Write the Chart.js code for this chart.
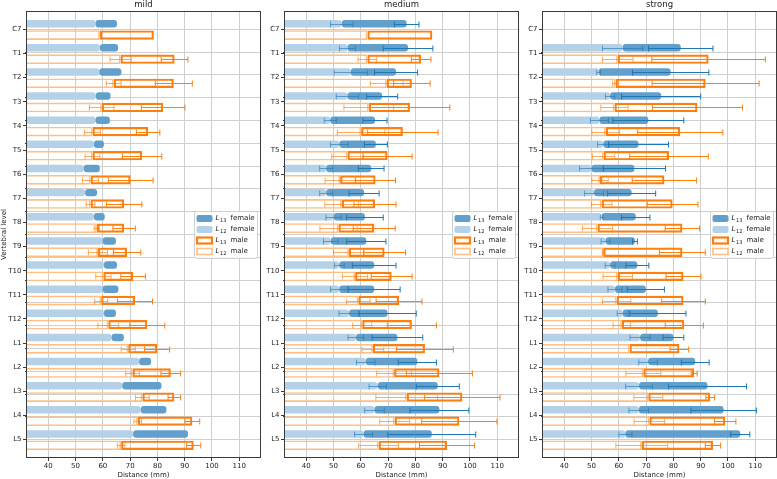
<!DOCTYPE html>
<html>
<head>
<meta charset="utf-8">
<script src="https://cdn.jsdelivr.net/npm/chart.js@4.4.0/dist/chart.umd.min.js"></script>
<style>
  html, body { margin: 0; padding: 0; background: #fff; }
  #wrap { position: relative; width: 777px; height: 479px; }
  .panel { position: absolute; top: 0; height: 479px; }
</style>
</head>
<body>
<div id="wrap">
  <div class="panel" style="left:0;width:262px"><canvas id="mild"></canvas></div>
  <div class="panel" style="left:262px;width:258px"><canvas id="medium"></canvas></div>
  <div class="panel" style="left:520px;width:257px"><canvas id="strong"></canvas></div>
</div>
<script>
//-----------------------------------
// Data (mm)
//-----------------------------------
const levels = ['C7', 'T1', 'T2', 'T3', 'T4', 'T5', 'T6', 'T7', 'T8', 'T9', 'T10', 'T11', 'T12', 'L1', 'L2', 'L3', 'L4', 'L5'];
const xTicks = [40, 50, 60, 70, 80, 90, 100, 110];
const xStart = 0; // L12 bars are drawn from here

// mild
const mildFemaleL12 = [57.3, 58.9, 58.7, 57.4, 57.3, 56.7, 53.0, 53.5, 56.7, 59.9, 60.4, 59.9, 60.4, 63.2, 73.3, 67.1, 73.9, 71.1];
const mildFemaleL12Sd = [null, null, null, null, null, null, null, null, null, null, null, null, null, null, null, null, null, null];
const mildFemaleL13 = [65.2, 65.6, 66.8, 62.8, 62.6, 60.4, 58.9, 57.9, 60.7, 64.8, 65.2, 65.7, 64.8, 67.7, 77.7, 81.5, 83.3, 91.2];
const mildFemaleL13Sd = [null, null, null, null, null, null, null, null, null, null, null, null, null, null, null, null, null, null];
const mildMaleL12 = [58.9, 66.5, 64.0, 59.6, 56.2, 56.2, 55.5, 55.5, 57.8, 58.2, 60.2, 59.4, 62.0, 69.3, 70.9, 74.5, 72.8, 66.7];
const mildMaleL12Sd = [null, 3.9, 2.7, 4.5, 2.9, 2.7, 3.0, 1.6, 1.0, 3.5, 2.8, 2.4, 3.8, 2.6, 2.5, 2.5, 1.4, 1.4];
const mildMaleL13 = [78.7, 86.3, 86.0, 82.1, 76.6, 74.4, 70.2, 67.8, 67.8, 68.9, 71.1, 71.8, 76.3, 79.9, 84.9, 86.2, 92.8, 93.3];
const mildMaleL13Sd = [null, 4.9, 6.8, 8.0, 4.3, 7.2, 8.2, 6.5, 4.1, 5.0, 4.5, 6.4, 6.4, 4.6, 3.6, 2.3, 2.7, 2.6];

// medium
const mediumFemaleL12 = [53.0, 55.1, 56.3, 55.1, 48.8, 52.1, 47.3, 47.3, 50.0, 49.0, 52.1, 52.1, 55.7, 58.2, 61.8, 66.2, 65.0, 61.0];
const mediumFemaleL12Sd = [4.1, 2.9, 6.1, 4.1, 2.2, 3.2, 2.4, 2.4, 2.8, 2.7, 1.8, 3.2, 3.7, 2.9, 3.4, 3.2, 3.6, 3.3];
const mediumFemaleL13 = [76.8, 77.3, 72.9, 67.8, 65.2, 65.5, 63.8, 61.2, 61.5, 62.0, 64.9, 64.9, 69.8, 73.4, 80.7, 88.2, 88.8, 86.0];
const mediumFemaleL13Sd = [4.5, 9.1, 7.9, 5.7, 4.4, 4.2, 4.7, 5.5, 6.7, 7.2, 8.0, 9.5, 10.5, 9.3, 7.0, 7.9, 10.8, 16.1];
const mediumMaleL12 = [62.4, 62.4, 69.5, 62.9, 60.1, 55.1, 52.4, 53.0, 51.8, 55.6, 57.9, 59.1, 60.5, 64.4, 72.2, 76.8, 72.4, 66.5];
const mediumMaleL12Sd = [null, 3.4, 6.0, 9.1, 8.7, 5.8, 5.5, 6.2, 6.8, 5.6, 4.6, 4.3, 3.5, 4.0, 6.4, 11.3, 5.5, 7.3];
const mediumMaleL13 = [86.2, 82.1, 78.7, 78.0, 75.4, 69.8, 65.4, 65.2, 64.9, 68.7, 71.3, 74.0, 78.7, 83.5, 88.8, 97.2, 96.1, 91.6];
const mediumMaleL13Sd = [null, 3.6, 6.7, 14.6, 12.9, 9.0, 7.3, 7.7, 7.7, 7.7, 7.5, 8.4, 9.0, 10.4, 12.1, 13.8, 13.8, 10.1];

// strong (no C7 data)
const strongFemaleL12 = [null, 61.4, 52.6, 56.8, 52.9, 54.3, 50.0, 50.9, 53.7, 55.1, 56.8, 58.6, 61.4, 67.8, 70.7, 67.4, 67.3, 62.4];
const strongFemaleL12Sd = [null, 7.4, 0.7, 1.7, 3.3, 2.1, 4.4, 3.5, 0.5, 1.6, 1.8, 2.6, 2.0, 3.7, 3.4, 4.9, 3.6, 2.4];
const strongFemaleL13 = [null, 82.7, 79.0, 75.5, 70.8, 67.2, 65.7, 64.7, 66.2, 65.9, 66.8, 69.9, 74.3, 80.0, 88.0, 92.5, 98.4, 104.5];
const strongFemaleL13Sd = [null, 11.8, 14.0, 14.5, 13.0, 11.0, 11.4, 8.8, 5.2, 0.9, 4.2, 6.8, 10.3, 3.8, 5.1, 14.3, 12.0, 3.5];
const strongMaleL12 = [null, 59.6, 58.8, 58.4, 55.2, 54.4, 53.1, 53.7, 52.2, 54.3, 59.6, 59.2, 61.1, 63.9, 69.0, 70.8, 71.2, 68.4];
const strongMaleL12Sd = [null, 5.6, 1.1, 5.0, 5.1, 4.1, 3.0, 3.8, 5.5, 0.2, 5.4, 5.2, 3.2, null, 6.4, 5.3, 5.6, 9.5];
const strongMaleL13 = [null, 92.9, 91.8, 88.8, 82.5, 78.4, 76.7, 79.7, 83.3, 83.3, 83.7, 83.7, 84.0, 82.2, 87.6, 93.5, 99.0, 94.5];
const strongMaleL13Sd = [null, 20.8, 19.6, 16.5, 15.6, 14.4, 11.8, 9.3, 6.3, 8.4, 6.4, 8.0, 7.0, 3.4, 1.1, 1.6, 3.9, 2.8];

//-----------------------------------
// Styling
//-----------------------------------
const family = '"DejaVu Sans", sans-serif';
const textCol = '#222';
const gridCol = '#cfcfcf';
const catPct = 0.94;
const colF13 = '#62a0cb', colF12 = '#b5d1e7';
const colM13 = '#ff7f0e', colM12 = '#ffbf86';
const errF12 = 'rgba(31,119,180,0.6)', errF13 = '#1f77b4';
const errM12 = 'rgba(255,127,14,0.65)', errM13 = '#ff7f0e';

// [lo, hi] pairs for floating bars, skipping missing levels
function floatBars(lo, hi) {
  const out = [];
  levels.forEach(function (_, i) {
    if (hi[i] == null) return;
    out.push({ y: i, x: [lo ? lo[i] : xStart, hi[i]] });
  });
  return out;
}

// error bars at both ends of the L13 bars
function errorBarPlugin(s) {
  return {
    id: 'errbars',
    afterDatasetsDraw(chart) {
      const { ctx, chartArea } = chart;
      const x = chart.scales.x, y = chart.scales.y;
      const spacing = Math.abs(y.getPixelForValue(1) - y.getPixelForValue(0));
      const shift = spacing * catPct / 4;
      ctx.save();
      ctx.beginPath();
      ctx.rect(chartArea.left, chartArea.top, chartArea.width, chartArea.height);
      ctx.clip();
      ctx.lineWidth = 1;
      const sets = [
        [s.f12, s.f12sd, -shift, errF12], [s.f13, s.f13sd, -shift, errF13],
        [s.m12, s.m12sd, shift, errM12], [s.m13, s.m13sd, shift, errM13]
      ];
      sets.forEach(function (set) {
        const vals = set[0], sds = set[1], dy = set[2];
        ctx.strokeStyle = set[3];
        levels.forEach(function (_, i) {
          if (vals[i] == null || !sds[i]) return;
          const cy = Math.round(y.getPixelForValue(i) + dy) + 0.5;
          const x0 = x.getPixelForValue(vals[i] - sds[i]);
          const x1 = x.getPixelForValue(vals[i] + sds[i]);
          ctx.beginPath();
          ctx.moveTo(x0, cy); ctx.lineTo(x1, cy);
          ctx.moveTo(x0, cy - 3); ctx.lineTo(x0, cy + 3);
          ctx.moveTo(x1, cy - 3); ctx.lineTo(x1, cy + 3);
          ctx.stroke();
        });
      });
      ctx.restore();
    }
  };
}

// frame + legend (centre right, like matplotlib)
const framePlugin = {
  id: 'frameLegend',
  afterDraw(chart) {
    const { ctx, chartArea: a } = chart;
    ctx.save();
    ctx.strokeStyle = '#3a3a3a';
    ctx.lineWidth = 1;
    ctx.strokeRect(Math.round(a.left) - 0.5, Math.round(a.top) - 0.5,
      Math.round(a.right) - Math.round(a.left) + 1, Math.round(a.bottom) - Math.round(a.top) + 1);

    const w = 63, h = 47;
    const bx = Math.round(a.right - 3 - w) + 0.5;
    const by = Math.round((a.top + a.bottom) / 2 - h / 2) + 0.5;
    ctx.fillStyle = 'rgba(255,255,255,0.85)';
    ctx.strokeStyle = '#d0d0d0';
    ctx.beginPath();
    ctx.roundRect(bx, by, w, h, 2);
    ctx.fill();
    ctx.stroke();

    const items = [
      ['13', 'female', 'fill', colF13],
      ['12', 'female', 'fill', colF12],
      ['13', 'male', 'stroke', colM13, 2.2],
      ['12', 'male', 'stroke', colM12, 1.6]
    ];
    items.forEach(function (it, k) {
      const cy = by + 7 + k * 11;
      if (it[2] === 'fill') {
        ctx.fillStyle = it[3];
        ctx.beginPath();
        ctx.roundRect(bx + 2, cy - 3.5, 16, 7, 2);
        ctx.fill();
      } else {
        ctx.strokeStyle = it[3];
        ctx.lineWidth = it[4];
        ctx.strokeRect(bx + 2.5, cy - 3, 15, 6);
      }
      ctx.fillStyle = textCol;
      ctx.textBaseline = 'middle';
      ctx.textAlign = 'left';
      ctx.font = 'italic 7px ' + family;
      ctx.fillText('L', bx + 21, cy);
      ctx.font = '5px ' + family;
      ctx.fillText(it[0], bx + 25.5, cy + 1.8);
      ctx.font = '7px ' + family;
      ctx.fillText(it[1], bx + 36, cy);
    });
    ctx.restore();
  }
};

function makePanel(id, title, s, axisW, padRight, showYTitle) {
  const common = { categoryPercentage: catPct, borderSkipped: false, clip: 0, xAxisID: 'x', yAxisID: 'y' };
  const datasets = [
    Object.assign({ label: 'L13 female', data: floatBars(s.f12, s.f13), stack: 'female',
      backgroundColor: colF13, borderWidth: 0, borderRadius: 3, barPercentage: 0.66 }, common),
    Object.assign({ label: 'L12 female', data: floatBars(null, s.f12), stack: 'female',
      backgroundColor: colF12, borderWidth: 0, borderRadius: 3, barPercentage: 0.66 }, common),
    Object.assign({ label: 'L13 male', data: floatBars(s.m12, s.m13), stack: 'male',
      backgroundColor: 'rgba(0,0,0,0)', borderColor: colM13, borderWidth: 2.2, barPercentage: 0.82 }, common),
    Object.assign({ label: 'L12 male', data: floatBars(null, s.m12), stack: 'male',
      backgroundColor: 'rgba(0,0,0,0)', borderColor: colM12, borderWidth: 1.6, barPercentage: 0.86 }, common)
  ];
  const levelTicks = function (scale) { scale.ticks = levels.map(function (_, i) { return { value: i }; }); };

  const config = {
    type: 'bar',
    data: { datasets: datasets },
    options: {
      indexAxis: 'y',
      responsive: true,
      maintainAspectRatio: false,
      animation: false,
      devicePixelRatio: 1,
      events: [],
      layout: { padding: { left: 0, right: padRight, top: 0, bottom: 0 } },
      plugins: {
        legend: { display: false },
        tooltip: { enabled: false },
        title: { display: true, text: title, fullSize: false, color: textCol,
          font: { family: family, size: 8.5, weight: 'normal' }, padding: { top: 0, bottom: 1.8 } }
      },
      scales: {
        x: {
          type: 'linear', min: 32.2, max: 117.6, stacked: false,
          afterBuildTicks: function (scale) { scale.ticks = xTicks.map(function (v) { return { value: v }; }); },
          afterFit: function (scale) { scale.height = 22; },
          ticks: { font: { family: family, size: 7 }, color: textCol, padding: 1, maxRotation: 0 },
          grid: { color: gridCol, lineWidth: 1, tickLength: 4, tickColor: '#3a3a3a' },
          border: { display: false },
          title: { display: true, text: 'Distance (mm)', color: textCol, font: { family: family, size: 7 }, padding: 0 }
        },
        y: {
          type: 'linear', reverse: true, min: -0.72, max: 17.72, weight: 1, offset: false,
          afterBuildTicks: levelTicks,
          afterFit: function (scale) { scale.width = axisW; },
          ticks: { callback: function (v) { return levels[v]; }, font: { family: family, size: 7 }, color: textCol, padding: 1.5, autoSkip: false },
          grid: { drawOnChartArea: false, offset: false, tickLength: 4, tickColor: '#3a3a3a' },
          border: { display: false },
          title: { display: showYTitle, text: 'Vertebral level', color: textCol, font: { family: family, size: 7 }, padding: 0 }
        },
        yGrid: {
          type: 'linear', axis: 'y', position: 'left', reverse: true, min: -0.72, max: 17.72, weight: 0,
          afterBuildTicks: levelTicks,
          afterFit: function (scale) { scale.width = 0; },
          ticks: { display: false },
          grid: { offset: true, color: gridCol, lineWidth: 1, tickLength: 2, tickColor: '#3a3a3a' },
          border: { display: false }
        }
      }
    },
    plugins: [errorBarPlugin(s), framePlugin]
  };
  return new Chart(document.getElementById(id), config);
}

makePanel('mild', 'mild', {
  f12: mildFemaleL12, f12sd: mildFemaleL12Sd, f13: mildFemaleL13, f13sd: mildFemaleL13Sd,
  m12: mildMaleL12, m12sd: mildMaleL12Sd, m13: mildMaleL13, m13sd: mildMaleL13Sd
}, 27, 2, true);

makePanel('medium', 'medium', {
  f12: mediumFemaleL12, f12sd: mediumFemaleL12Sd, f13: mediumFemaleL13, f13sd: mediumFemaleL13Sd,
  m12: mediumMaleL12, m12sd: mediumMaleL12Sd, m13: mediumMaleL13, m13sd: mediumMaleL13Sd
}, 23, 2, false);

makePanel('strong', 'strong', {
  f12: strongFemaleL12, f12sd: strongFemaleL12Sd, f13: strongFemaleL13, f13sd: strongFemaleL13Sd,
  m12: strongMaleL12, m12sd: strongMaleL12Sd, m13: strongMaleL13, m13sd: strongMaleL13Sd
}, 23, 1, false);
</script>
</body>
</html>
